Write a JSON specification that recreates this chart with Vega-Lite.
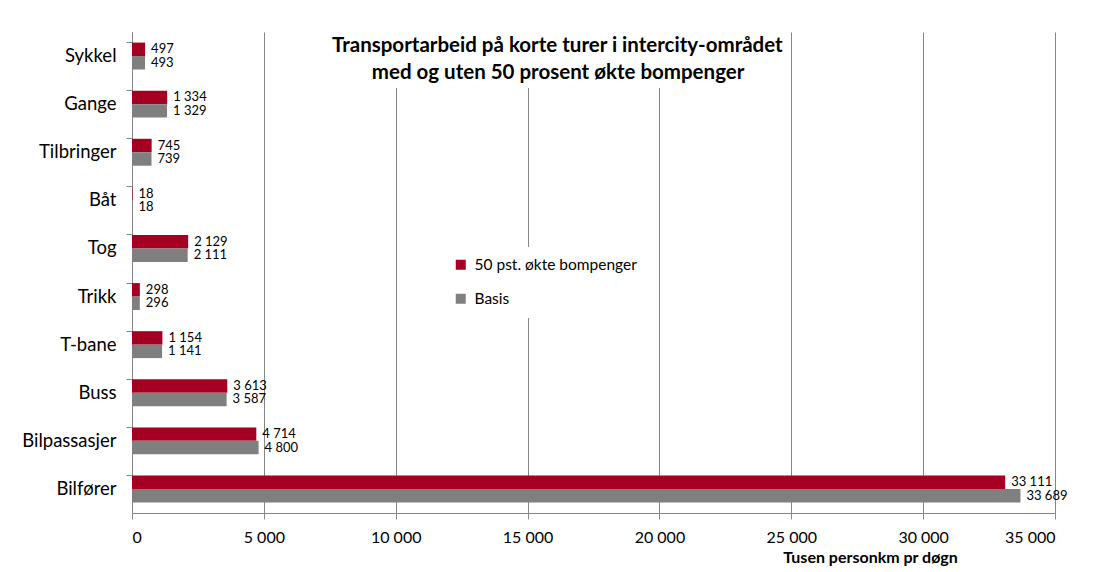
{
  "$schema": "https://vega.github.io/schema/vega-lite/v6.json",
  "width": 923,
  "height": 481,
  "autosize": "none",
  "padding": {"left": 132, "top": 32, "right": 38, "bottom": 59},
  "background": "white",
  "data": {
    "values": [
      {"modus": "Sykkel", "serie": "50 pst. økte bompenger", "verdi": 497},
      {"modus": "Sykkel", "serie": "Basis", "verdi": 493},
      {"modus": "Gange", "serie": "50 pst. økte bompenger", "verdi": 1334},
      {"modus": "Gange", "serie": "Basis", "verdi": 1329},
      {"modus": "Tilbringer", "serie": "50 pst. økte bompenger", "verdi": 745},
      {"modus": "Tilbringer", "serie": "Basis", "verdi": 739},
      {"modus": "Båt", "serie": "50 pst. økte bompenger", "verdi": 18},
      {"modus": "Båt", "serie": "Basis", "verdi": 18},
      {"modus": "Tog", "serie": "50 pst. økte bompenger", "verdi": 2129},
      {"modus": "Tog", "serie": "Basis", "verdi": 2111},
      {"modus": "Trikk", "serie": "50 pst. økte bompenger", "verdi": 298},
      {"modus": "Trikk", "serie": "Basis", "verdi": 296},
      {"modus": "T-bane", "serie": "50 pst. økte bompenger", "verdi": 1154},
      {"modus": "T-bane", "serie": "Basis", "verdi": 1141},
      {"modus": "Buss", "serie": "50 pst. økte bompenger", "verdi": 3613},
      {"modus": "Buss", "serie": "Basis", "verdi": 3587},
      {"modus": "Bilpassasjer", "serie": "50 pst. økte bompenger", "verdi": 4714},
      {"modus": "Bilpassasjer", "serie": "Basis", "verdi": 4800},
      {"modus": "Bilfører", "serie": "50 pst. økte bompenger", "verdi": 33111},
      {"modus": "Bilfører", "serie": "Basis", "verdi": 33689}
    ]
  },
  "encoding": {
    "y": {
      "field": "modus",
      "type": "nominal",
      "sort": null,
      "scale": {"paddingInner": 0.44, "paddingOuter": 0.22},
      "axis": {
        "title": null,
        "bandPosition": 0,
        "grid": false,
        "labelFont": "Lato",
        "labelFontSize": 18.5,
        "labelColor": "#000000",
        "labelPadding": 10,
        "tickSize": 6,
        "tickColor": "#868686",
        "domainColor": "#868686"
      }
    },
    "x": {
      "field": "verdi",
      "type": "quantitative",
      "scale": {"domain": [0, 35000], "nice": false},
      "axis": {
        "values": [0, 5000, 10000, 15000, 20000, 25000, 30000, 35000],
        "format": ",d",
        "title": "Tusen personkm pr døgn",
        "titleFont": "Lato",
        "titleFontSize": 16,
        "titleFontWeight": "bold",
        "titleColor": "#000000",
        "titleAnchor": "start",
        "titleAlign": "center",
        "titleX": 738,
        "titleY": 44,
        "titleBaseline": "middle",
        "labelFont": "Lato",
        "labelFontSize": 16,
        "labelColor": "#000000",
        "labelPadding": 10,
        "grid": true,
        "gridColor": "#868686",
        "gridWidth": 1,
        "tickSize": 6,
        "tickColor": "#868686",
        "domainColor": "#868686"
      }
    },
    "yOffset": {"field": "serie", "type": "nominal", "sort": ["50 pst. økte bompenger", "Basis"]}
  },
  "layer": [
    {
      "mark": {"type": "bar"},
      "encoding": {
        "color": {
          "field": "serie",
          "type": "nominal",
          "sort": ["50 pst. økte bompenger", "Basis"],
          "scale": {"domain": ["50 pst. økte bompenger", "Basis"], "range": ["#A50021", "#7F7F7F"]},
          "legend": {
            "title": null,
            "orient": "none",
            "legendX": 311,
            "legendY": 215,
            "padding": 10,
            "fillColor": "white",
            "symbolType": "square",
            "symbolSize": 100,
            "symbolStrokeWidth": 0,
            "labelFont": "Lato",
            "labelFontSize": 15.5,
            "labelLimit": 400,
            "labelColor": "#000000",
            "labelOffset": 6,
            "rowPadding": 17
          }
        }
      }
    },
    {
      "mark": {"type": "text", "align": "left", "baseline": "middle", "dx": 6, "font": "Lato", "fontSize": 13, "color": "#000000"},
      "encoding": {
        "text": {"field": "verdi", "type": "quantitative", "format": ",d"},
        "opacity": {
          "datum": 1,
          "type": "quantitative",
          "scale": {"domain": [0, 1], "range": [1, 1]},
          "legend": {
            "values": [],
            "title": ["Transportarbeid på korte turer i intercity-området", "\u200b\u00a0\u00a0\u00a0\u00a0\u00a0\u00a0\u00a0\u00a0med og uten 50 prosent økte bompenger"],
            "orient": "none",
            "legendX": 196,
            "legendY": 0,
            "padding": 4,
            "fillColor": "white",
            "titleFont": "Lato",
            "titleFontSize": 20.5,
            "titleFontWeight": "bold",
            "titleColor": "#000000",
            "titleLineHeight": 27,
            "titleLimit": 700,
            "titleAnchor": "start",
            "titleAlign": "left",
            "titlePadding": 0
          }
        }
      }
    }
  ],
  "config": {
    "view": {"stroke": null},
    "locale": {
      "number": {"decimal": ",", "thousands": "\u00a0", "grouping": [3], "currency": ["", " kr"]}
    }
  }
}
